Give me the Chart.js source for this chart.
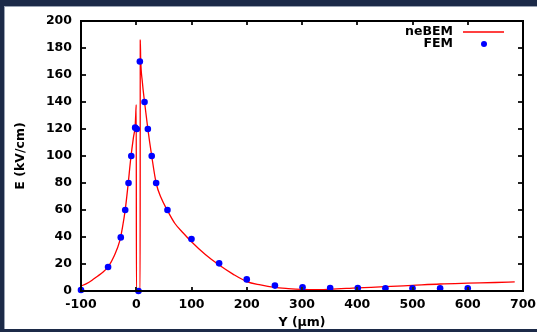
<!DOCTYPE html>
<html>
<head>
<meta charset="utf-8">
<script src="https://cdn.jsdelivr.net/npm/chart.js@4"></script>
<style>
  html, body { margin: 0; padding: 0; }
  body { width: 537px; height: 332px; background: #1c2a48; position: relative; overflow: hidden; }
  #panel { position: absolute; left: 4px; top: 6px; right: 0; bottom: 3px; background: #fff;
           border-left: 1px solid #9aa3b3; border-top: 1px solid #9aa3b3; }
  #wrap { position: absolute; left: 0; top: 0; width: 537px; height: 332px; }
</style>
</head>
<body>
<div id="panel"></div>
<div id="wrap"><canvas id="chart"></canvas></div>
<script>
// neBEM curve (Y in um, E in kV/cm)
const bemY = [-100, -90, -80, -70, -60, -50, -40, -30, -25, -20, -15, -10, -5, -2, -1, 0, 0.3,
  7, 7.3, 8, 11, 15, 21, 28, 36, 45, 56, 70, 85, 100, 125, 150, 175, 200, 225, 250, 275,
  300, 325, 350, 400, 450, 500, 550, 600, 650, 685];
const bemE = [3.7, 5.5, 8, 11, 14, 18.5, 26, 37, 47, 60, 78, 98, 114, 122, 130, 138, 0,
  0, 186, 172, 155, 140, 120, 100, 80, 69, 60, 50, 43, 36.5, 27, 19.2, 12.5, 7, 4.5, 2.7, 1.8,
  1.2, 1.0, 1.3, 2.3, 3.2, 4.2, 5.2, 5.8, 6.3, 6.8];

// FEM points
const femY = [-100, -51, -28, -20, -14, -9, -2, 1, 4, 6.5, 15, 21, 28, 36, 56.5, 100, 150, 200,
  251, 301, 351, 401, 451, 500, 550, 600];
const femE = [0.7, 17.8, 39.7, 60, 80, 100, 121, 120, 0, 170, 140, 120, 100, 80, 60, 38.5, 20.5, 8.6,
  4, 2.7, 2.2, 2.2, 2, 2, 2, 2];

const xTicks = [-100, 0, 100, 200, 300, 400, 500, 600, 700];
const yTicks = [0, 20, 40, 60, 80, 100, 120, 140, 160, 180, 200];

Chart.defaults.font.family = "'DejaVu Sans', sans-serif";
Chart.defaults.font.weight = "bold";
Chart.defaults.font.size = 12.5;
Chart.defaults.color = "#000";

// key, then the gnuplot style box with inward ticks
const boxPlugin = {
  id: "gnubox",
  afterDraw(chart) {
    const ctx = chart.ctx;
    const a = chart.chartArea;
    const L = Math.round(a.left), R = Math.round(a.right);
    const T = Math.round(a.top), B = Math.round(a.bottom);
    ctx.save();

    const sets = chart.data.datasets;
    const textX = R - 70;
    ctx.font = "bold 12.5px 'DejaVu Sans'";
    ctx.textAlign = "right";
    ctx.textBaseline = "middle";
    sets.forEach((ds, i) => {
      const yy = T + 11 + i * 12;
      ctx.fillStyle = "#000";
      ctx.fillText(ds.label, textX, yy);
      if (ds.showLine) {
        ctx.strokeStyle = ds.borderColor;
        ctx.lineWidth = 1.3;
        ctx.beginPath();
        ctx.moveTo(textX + 10, yy);
        ctx.lineTo(textX + 51, yy);
        ctx.stroke();
      } else {
        ctx.fillStyle = ds.backgroundColor;
        ctx.beginPath();
        ctx.arc(textX + 31, yy, 3, 0, Math.PI * 2);
        ctx.fill();
      }
    });

    ctx.strokeStyle = "#222";
    ctx.lineWidth = 2;
    xTicks.forEach(v => {
      const px = Math.round(chart.scales.x.getPixelForValue(v));
      ctx.beginPath();
      ctx.moveTo(px, B); ctx.lineTo(px, B - 4);
      ctx.moveTo(px, T); ctx.lineTo(px, T + 4);
      ctx.stroke();
    });
    yTicks.forEach(v => {
      const py = Math.round(chart.scales.y.getPixelForValue(v));
      ctx.beginPath();
      ctx.moveTo(L, py); ctx.lineTo(L + 5, py);
      ctx.moveTo(R, py); ctx.lineTo(R - 5, py);
      ctx.stroke();
    });
    ctx.strokeStyle = "#000";
    ctx.lineWidth = 2;
    ctx.strokeRect(L, T, R - L, B - T);
    ctx.restore();
  }
};

new Chart(document.getElementById("chart"), {
  type: "scatter",
  data: {
    datasets: [
      {
        label: "neBEM",
        data: bemY.map((v, i) => ({ x: v, y: bemE[i] })),
        showLine: true,
        borderColor: "#ff0000",
        borderWidth: 1.3,
        pointRadius: 0,
        cubicInterpolationMode: "monotone",
        clip: false,
        order: 1
      },
      {
        label: "FEM",
        data: femY.map((v, i) => ({ x: v, y: femE[i] })),
        showLine: false,
        backgroundColor: "#0000ff",
        borderColor: "#0000ff",
        borderWidth: 0,
        pointRadius: 3.3,
        clip: false,
        order: 0
      }
    ]
  },
  options: {
    responsive: true,
    maintainAspectRatio: false,
    animation: false,
    layout: { padding: { top: 21, right: 14, left: 0, bottom: 0 } },
    plugins: { legend: { display: false }, tooltip: { enabled: false } },
    scales: {
      x: {
        type: "linear",
        min: xTicks[0],
        max: xTicks[xTicks.length - 1],
        afterBuildTicks: s => { s.ticks = xTicks.map(v => ({ value: v })); },
        afterFit: s => { s.height = 41; s.paddingLeft = 0; s.paddingRight = 0; },
        ticks: { padding: 6 },
        grid: { display: false, drawTicks: false },
        border: { display: false },
        title: { display: true, text: "Y (μm)", padding: { top: 0, bottom: 2 } }
      },
      y: {
        min: yTicks[0],
        max: yTicks[yTicks.length - 1],
        afterBuildTicks: s => { s.ticks = yTicks.map(v => ({ value: v })); },
        afterFit: s => { s.width = 81; s.paddingTop = 0; s.paddingBottom = 0; },
        ticks: { padding: 9 },
        grid: { display: false, drawTicks: false },
        border: { display: false },
        title: { display: true, text: "E (kV/cm)", padding: { top: 13, bottom: 0 } }
      }
    }
  },
  plugins: [boxPlugin]
});
</script>
</body>
</html>
